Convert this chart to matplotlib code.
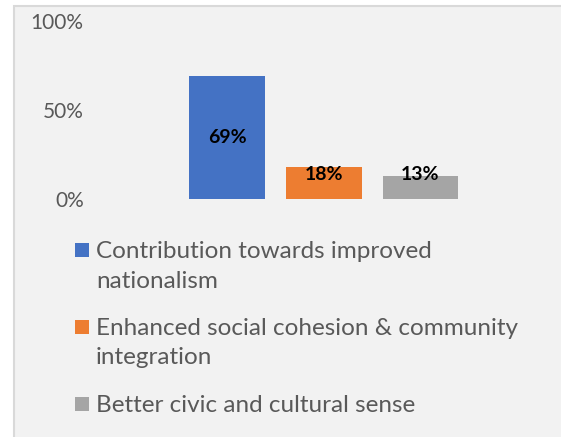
import matplotlib

matplotlib.use("Agg")

import matplotlib.pyplot as plt
from matplotlib.patches import Rectangle

categories = [
    "Contribution towards improved\nnationalism",
    "Enhanced social cohesion & community\nintegration",
    "Better civic and cultural sense",
]
shares = [69, 18, 13]
bar_colors = ["#4472C4", "#ED7D31", "#A5A5A5"]
y_ticks = [0, 50, 100]
y_tick_labels = ["0%", "50%", "100%"]

W, H = 561, 437
TEXT_GREY = "#595959"

plt.rcParams["font.family"] = ["Lato", "DejaVu Sans"]

fig = plt.figure(figsize=(W / 100, H / 100), dpi=100)
fig.patch.set_facecolor("white")

# chart area panel with a thin grey frame (runs off the right/bottom edge)
panel = Rectangle(
    (14 / W, -0.05), 1.1, (H - 6) / H + 0.05,
    transform=fig.transFigure, facecolor="#F2F2F2",
    edgecolor="#D9D9D9", linewidth=1.5, zorder=-5,
)
fig.patches.append(panel)

ax = fig.add_axes([90 / W, (H - 199) / H, 465 / W, 178 / H])
ax.set_facecolor("none")
ax.set_zorder(2)

x = range(len(shares))
bars = ax.bar(x, shares, width=0.785, color=bar_colors)

for xi, v in zip(x, shares):
    ax.text(xi, max(v / 2, 13.5), f"{v}%", ha="center", va="center",
            fontsize=14, fontweight="bold", color="black")

ax.set_xlim(-1.416, 3.39)
ax.set_ylim(0, 100)
ax.set_yticks(y_ticks)
ax.set_yticklabels(y_tick_labels)
ax.set_xticks([])
ax.tick_params(axis="y", length=0, pad=4.5, labelsize=15, labelcolor=TEXT_GREY)
for spine in ax.spines.values():
    spine.set_visible(False)


def px(xp, yp):
    """pixel position (from top-left) -> figure fraction"""
    return xp / W, 1 - yp / H


# legend below the plot: square key aligned with the first line of each label
line_step = 29.5
item_gap = 18
baseline = 258
for bar, label in zip(bars, categories):
    kx, ky = px(75, baseline - 1)
    fig.patches.append(Rectangle(
        (kx, ky), 14 / W, 14 / H, transform=fig.transFigure,
        facecolor=bar.get_facecolor(), edgecolor="none", zorder=3,
    ))
    for line in label.split("\n"):
        tx, ty = px(96, baseline)
        fig.text(tx, ty, line, ha="left", va="baseline",
                 fontsize=17.5, color=TEXT_GREY)
        baseline += line_step
    baseline += item_gap

fig.savefig("out.png", dpi=100)
